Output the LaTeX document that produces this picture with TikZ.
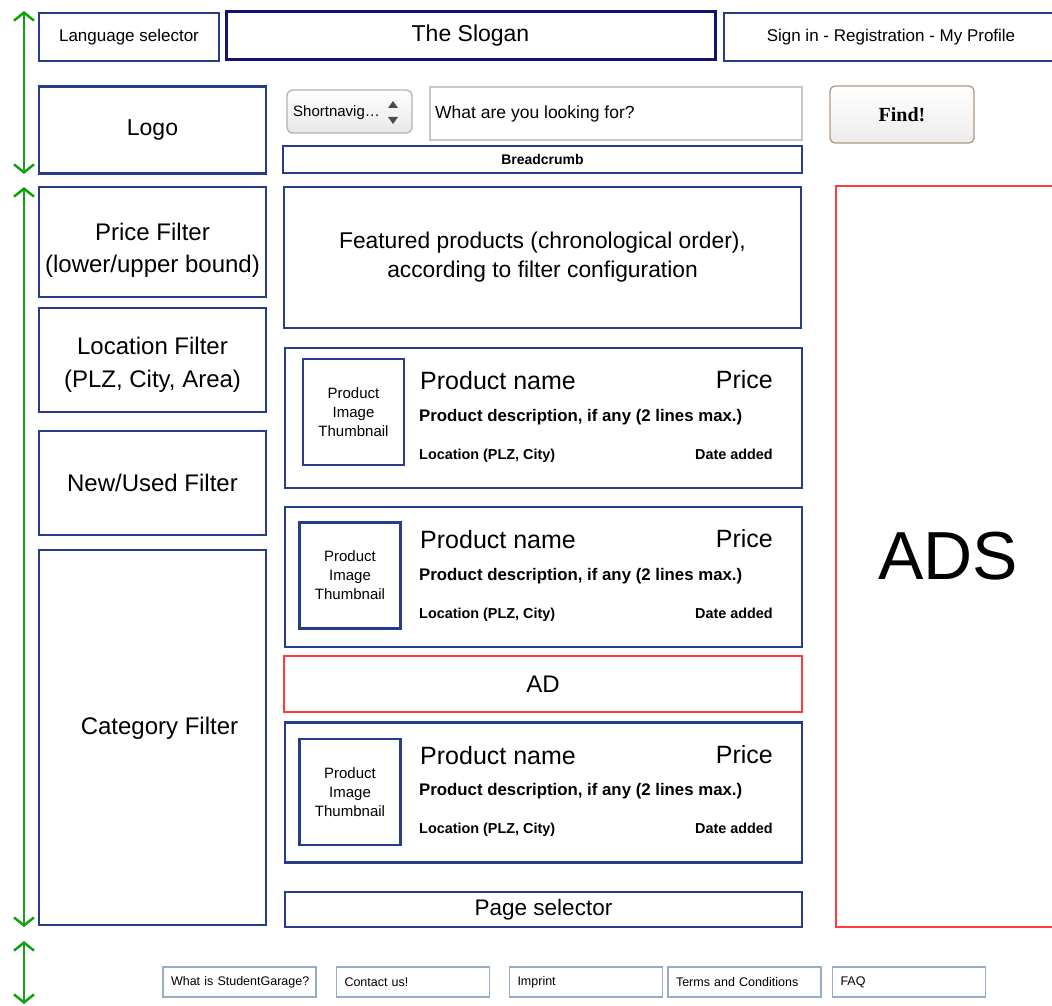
\documentclass[tikz,border=0pt]{standalone}
\usepackage{fontspec}
\setmainfont{Liberation Sans}
\newfontfamily\btnfont{Liberation Serif}
\usepackage{tikz}
\usetikzlibrary{arrows.meta}

\definecolor{navy}{RGB}{40,60,140}
\definecolor{darknavy}{RGB}{20,20,110}
\definecolor{adred}{RGB}{255,60,60}
\definecolor{linkgray}{RGB}{150,172,200}
\definecolor{dimgreen}{RGB}{20,160,20}
\newcommand{\fsz}[2]{\fontsize{#1}{#2}\selectfont}

\begin{document}
\begin{tikzpicture}[x=1pt, y=-1pt,
	> = {Straight Barb[length=8pt,width=20pt]}, % open arrow heads
	wire/.style={draw=navy, line width=2.6pt, inner sep=0pt, align=center},
	adbox/.style={draw=adred, line width=1.8pt, inner sep=0pt},
	link/.style={draw=linkgray, line width=1.6pt, text width=137pt, inner xsep=8pt,
		minimum height=30pt, align=left, font=\fsz{12.5}{15}},
	dim/.style={draw=dimgreen, line width=2.5pt, <->},
	wh/.style 2 args={minimum width=#1pt, minimum height=#2pt}]
	\clip (0,0) rectangle (1052,1006);

	% header
	\node[wire, wh={180}{48}, font=\fsz{17}{20}] (lang) at (129,37) {Language selector};
	\node[wire, draw=darknavy, line width=3pt, wh={489}{48}, font=\fsz{23}{27}] (slogan) at (470.5,36) {The Slogan};
	\node[wire, wh={334}{48}, font=\fsz{17}{20}] (sign) at (891,37) {Sign in - Registration - My Profile};

	% logo and search row
	\node[wire, wh={227}{87}, font=\fsz{23}{27}] (logo) at (152.5,130) {Logo};
	\node[draw=gray!60, line width=1.3pt, rounded corners=6pt, top color=white,
		bottom color=gray!18, wh={125}{43}] (snav) at (349.5,111.5) {};
	\node[anchor=west, inner sep=0pt, font=\fsz{15}{18}] (snavtxt) at (293,113) {Shortnavig…};
	\fill[gray!60!black] (388,108) -- (398,108) -- (393,101) -- cycle;
	\fill[gray!60!black] (388,117) -- (398,117) -- (393,124) -- cycle;
	\node[draw=gray!45, line width=1.2pt, wh={372}{53}] (search) at (616,113.5) {};
	\node[anchor=west, inner sep=0pt, font=\fsz{17.5}{21}] (searchtxt) at (435,114) {What are you looking for?};
	\node[draw=brown!40!gray!80, line width=1.3pt, rounded corners=5pt, top color=white,
		bottom color=gray!15, wh={144}{57}, font=\btnfont\bfseries\fsz{20}{24}] (find) at (902,114.5) {Find!};
	\node[wire, wh={519}{27}, font=\bfseries\fsz{14}{17}] (crumb) at (542.5,159.5) {Breadcrumb};

	% filters
	\node[wire, wh={227}{110}] (price) at (152.5,242) {};
	\node[font=\fsz{24}{32}, align=center, inner sep=0pt] (pricetxt) at (152.5,250) {Price Filter\\(lower/upper bound)};
	\node[wire, wh={227}{104}] (location) at (152.5,360) {};
	\node[font=\fsz{24}{33}, align=center, inner sep=0pt] (loctxt) at (152.5,365) {Location Filter\\(PLZ, City, Area)};
	\node[wire, wh={227}{104}, font=\fsz{24}{30}] (newused) at (152.5,483) {New/Used Filter};
	\node[wire, wh={227}{375}] (category) at (152.5,737.5) {};
	\node[font=\fsz{24}{30}, inner sep=0pt] (cattxt) at (159.5,728) {Category Filter};

	% main column
	\node[wire, wh={517}{141}, font=\fsz{22.8}{29}] (featured) at (542.5,257.5)
		{Featured products (chronological order),\\according to filter configuration};
	\foreach \i/\cy/\tx/\ty in {1/418/353.5/412, 2/577/350/575.5, 3/792.5/350/792} {
		\node[wire, wh={517}{140}] (card\i) at (543.5,\cy) {};
		\node[wire, wh={101}{106}, font=\fsz{15}{19}] (thumb\i) at (\tx,\ty) {Product\\Image\\Thumbnail};
		\node[anchor=west, inner sep=0pt, font=\fsz{25}{30}] (name\i) at (420,\cy-37) {Product name};
		\node[anchor=east, inner sep=0pt, font=\fsz{25}{30}] (price\i) at (773,\cy-38) {Price};
		\node[anchor=west, inner sep=0pt, font=\bfseries\fsz{16.8}{20}] (desc\i) at (419,\cy-1) {Product description, if any (2 lines max.)};
		\node[anchor=base west, inner sep=0pt, font=\bfseries\fsz{14.4}{17}] (loc\i) at (419,\cy+41) {Location (PLZ, City)};
		\node[anchor=base east, inner sep=0pt, font=\bfseries\fsz{14.4}{17}] (date\i) at (773,\cy+41) {Date added};
	}
	\node[adbox, wh={518}{56}, font=\fsz{24}{28}] (ad) at (543,684) {AD};
	\node[wire, wh={517}{35}, font=\fsz{22.5}{27}] (pages) at (543.5,909.5) {Page selector};

	% right column
	\node[adbox, wh={224}{741}, font=\fsz{68}{80}] (ads) at (948,556.5) {ADS};

	% footer
	\foreach \n/\cx/\t in {what/239.5/What is StudentGarage?, contact/413/Contact us!,
		imprint/586/Imprint, terms/744.5/Terms and Conditions, faq/909/FAQ}
		\node[link] (link\n) at (\cx,982) {\mbox{\t}};

	% section markers
	\coordinate (headtop) at (24,11);
	\coordinate (headbot) at (24,174);
	\coordinate (bodytop) at (24,187);
	\coordinate (bodybot) at (24,927);
	\coordinate (foottop) at (24,941);
	\coordinate (footbot) at (24,1004);
	\draw[dim] (headtop) -- (headbot);
	\draw[dim] (bodytop) -- (bodybot);
	\draw[dim] (foottop) -- (footbot);

\end{tikzpicture}
\end{document}
